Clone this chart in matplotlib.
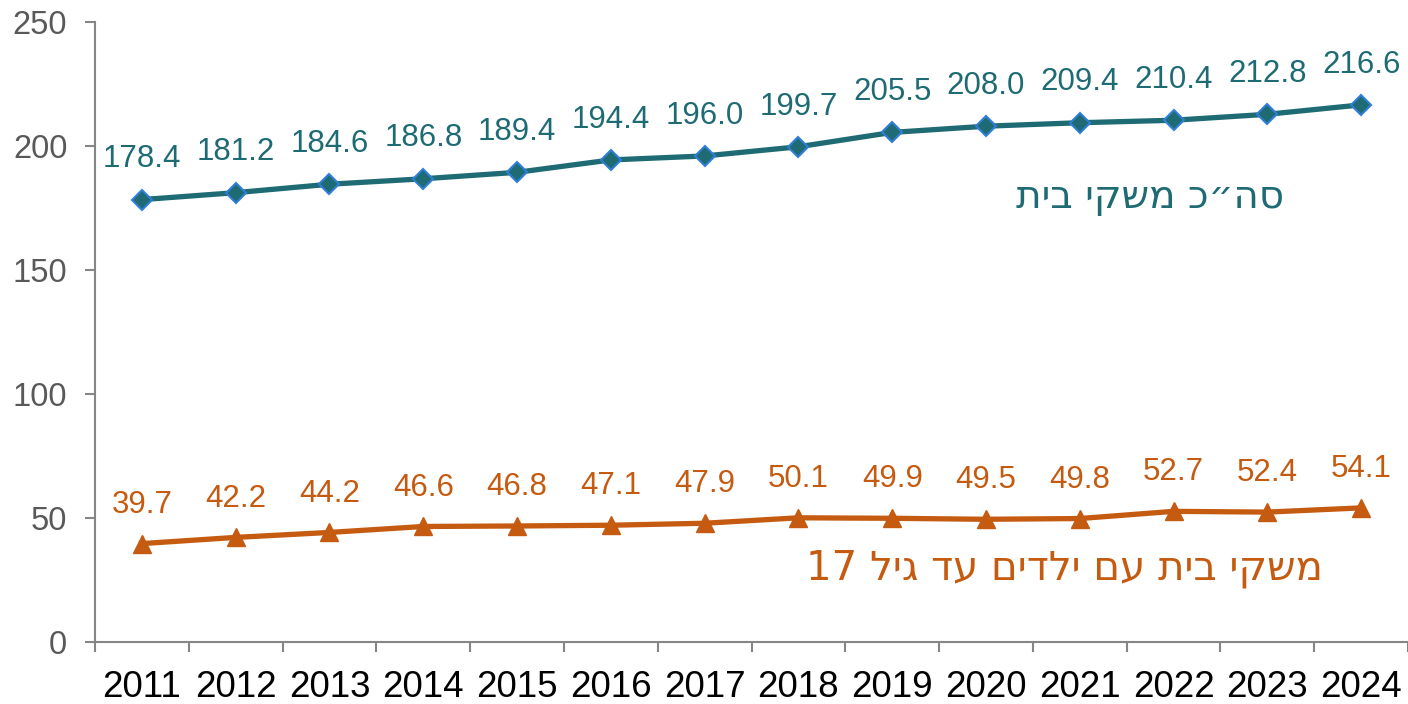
import matplotlib.pyplot as plt
import numpy as np

plt.rcParams["font.family"] = ["Liberation Sans", "DejaVu Sans"]

years = ["2011", "2012", "2013", "2014", "2015", "2016", "2017",
         "2018", "2019", "2020", "2021", "2022", "2023", "2024"]
total_households = [178.4, 181.2, 184.6, 186.8, 189.4, 194.4, 196.0,
                    199.7, 205.5, 208.0, 209.4, 210.4, 212.8, 216.6]
households_with_kids = [39.7, 42.2, 44.2, 46.6, 46.8, 47.1, 47.9,
                        50.1, 49.9, 49.5, 49.8, 52.7, 52.4, 54.1]

# Hebrew labels, written in visual (left-to-right) order for matplotlib
label_total = "תיב יקשמ כ״הס"          # סה״כ משקי בית
label_kids = "17 ליג דע םידלי םע תיב יקשמ"  # משקי בית עם ילדים עד גיל 17

teal = "#1E6B74"
orange = "#C55A11"
gray = "#868686"

fig = plt.figure(figsize=(14.08, 7.04), dpi=100)
ax = fig.add_axes([0.0675, 0.088, 0.9325, 0.8807])

x = np.arange(len(years))
ax.plot(x, total_households, color=teal, lw=3.8, marker="D", ms=10,
        mfc=teal, mec="#2F7ED8", mew=1.5, zorder=3)
ax.plot(x, households_with_kids, color=orange, lw=3.8, marker="^", ms=13,
        mfc=orange, mec=orange, zorder=3)

for xi, v in zip(x, total_households):
    ax.annotate(f"{v:.1f}", (xi, v), xytext=(0, 29), textcoords="offset points",
                ha="center", va="center", fontsize=22.5, color=teal)
for xi, v in zip(x, households_with_kids):
    ax.annotate(f"{v:.1f}", (xi, v), xytext=(0, 28), textcoords="offset points",
                ha="center", va="center", fontsize=22.5, color=orange)

ax.text(10.75, 179.4, label_total, ha="center", va="center", fontsize=28,
        color=teal, family="DejaVu Sans")
ax.text(9.84, 29.8, label_kids, ha="center", va="center", fontsize=29,
        color=orange, family="DejaVu Sans")

ax.set_xlim(-0.5, len(years) - 0.5)
ax.set_ylim(0, 250)
ax.set_yticks(np.arange(0, 251, 50))
ax.set_xticks(x)
ax.set_xticklabels(years)
ax.set_xticks(np.arange(-0.5, len(years)), minor=True)

for side in ["top", "right"]:
    ax.spines[side].set_visible(False)
for side in ["left", "bottom"]:
    ax.spines[side].set_color(gray)
    ax.spines[side].set_linewidth(1.5)

ax.tick_params(axis="y", length=7, width=1.5, color=gray, labelsize=23.5,
               labelcolor="#595959", pad=13)
ax.tick_params(axis="x", which="major", length=0, labelsize=26.5,
               labelcolor="black", pad=20)
ax.tick_params(axis="x", which="minor", length=7, width=1.5, color=gray)

fig.savefig("out.png", dpi=100)
